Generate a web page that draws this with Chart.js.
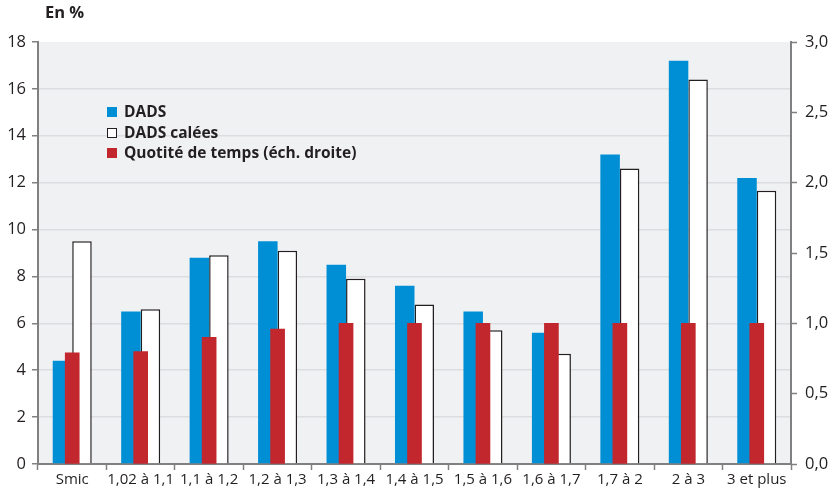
<!DOCTYPE html>
<html lang="fr">
<head>
<meta charset="utf-8">
<script src="https://cdn.jsdelivr.net/npm/chart.js@4/dist/chart.umd.min.js"></script>
<style>
    html, body { margin: 0; padding: 0; background: #ffffff; }
    #wrap { position: relative; width: 832px; height: 492px; font-family: "Open Sans", sans-serif; color: #231f20; }
    #salairesChart { position: absolute; left: 0; top: 0; }
    .unit { position: absolute; left: 45px; top: 0px; font-weight: bold; font-size: 16.5px; }
    .legend { position: absolute; left: 107px; top: 101px; font-weight: bold; font-size: 15.5px; line-height: 20.5px; }
    .legend div { position: relative; padding-left: 17px; white-space: nowrap; }
    .legend span { position: absolute; left: 0; top: 6px; width: 10px; height: 10px; box-sizing: border-box; }
</style>
</head>
<body>
<div id="wrap">
    <canvas id="salairesChart" width="832" height="492"></canvas>
    <div class="unit">En %</div>
    <div class="legend">
        <div><span style="background:#008fd5"></span>DADS</div>
        <div><span style="background:#ffffff;border:1.5px solid #231f20"></span>DADS calées</div>
        <div><span style="background:#c1272d"></span>Quotité de temps (éch. droite)</div>
    </div>
</div>
<script>
const categories = ['Smic', '1,02 à 1,1', '1,1 à 1,2', '1,2 à 1,3', '1,3 à 1,4', '1,4 à 1,5', '1,5 à 1,6', '1,6 à 1,7', '1,7 à 2', '2 à 3', '3 et plus'];
const dads = [4.4, 6.5, 8.8, 9.5, 8.5, 7.6, 6.5, 5.6, 13.2, 17.2, 12.2];
const dadsCalees = [9.5, 6.6, 8.9, 9.1, 7.9, 6.8, 5.7, 4.7, 12.6, 16.4, 11.65];
const quotite = [0.79, 0.80, 0.90, 0.96, 1.0, 1.0, 1.0, 1.0, 1.0, 1.0, 1.0];
const leftTicks = [0, 18, 2];
const rightTicks = [0, 3, 0.5];

const axisGrey = '#808080';

// fond gris clair de la zone de tracé
const plotBackground = {
    id: 'plotBackground',
    beforeDraw(chart) {
        const { ctx, chartArea } = chart;
        ctx.save();
        ctx.fillStyle = '#f0f1f3';
        ctx.fillRect(chartArea.left, chartArea.top, chartArea.right - chartArea.left, chartArea.bottom - chartArea.top);
        ctx.restore();
    }
};

function renderSalairesChart() {
    const ctx = document.getElementById('salairesChart');
    if (!ctx) {
        console.error('Element with id "salairesChart" not found.');
        return;
    }
    new Chart(ctx.getContext('2d'), {
        type: 'bar',
        data: {
            labels: categories,
            datasets: [{
                label: 'DADS',
                data: dads,
                backgroundColor: '#008fd5',
                borderWidth: 0,
                yAxisID: 'y',
                categoryPercentage: 0.57,
                barPercentage: 1.0
            }, {
                label: 'DADS calées',
                data: dadsCalees,
                backgroundColor: '#ffffff',
                borderColor: '#231f20',
                borderWidth: 1.5,
                yAxisID: 'y',
                categoryPercentage: 0.57,
                barPercentage: 1.0
            }, {
                label: 'Quotité de temps (éch. droite)',
                data: quotite,
                backgroundColor: '#c1272d',
                borderWidth: 0,
                yAxisID: 'y1',
                grouped: false,
                barThickness: 14,
                order: -1
            }]
        },
        options: {
            responsive: false,
            animation: false,
            layout: {
                padding: { top: 42, left: 0, right: 0, bottom: 0 }
            },
            plugins: {
                legend: { display: false },
                title: { display: false },
                tooltip: { enabled: false }
            },
            scales: {
                x: {
                    afterFit: (scale) => { scale.height = 28; },
                    grid: {
                        offset: true,
                        drawOnChartArea: false,
                        drawTicks: true,
                        tickLength: 6,
                        tickColor: axisGrey,
                        tickWidth: 1.5
                    },
                    border: { display: true, color: axisGrey, width: 2 },
                    ticks: {
                        color: '#231f20',
                        font: { family: 'Open Sans', size: 15 },
                        padding: 1,
                        maxRotation: 0,
                        autoSkip: false
                    }
                },
                y: {
                    position: 'left',
                    min: leftTicks[0],
                    max: leftTicks[1],
                    afterFit: (scale) => { scale.width = 38; },
                    grid: {
                        color: (c) => (c.tick && (c.tick.value === 18 || c.tick.value === 0)) ? 'rgba(0,0,0,0)' : '#dcdde0',
                        lineWidth: 1.5,
                        drawTicks: true,
                        tickLength: 6,
                        tickColor: axisGrey,
                        tickWidth: 1.5
                    },
                    border: { display: true, color: axisGrey, width: 2 },
                    ticks: {
                        stepSize: leftTicks[2],
                        color: '#231f20',
                        font: { family: 'Open Sans', size: 16.5 },
                        padding: 6
                    }
                },
                y1: {
                    position: 'right',
                    min: rightTicks[0],
                    max: rightTicks[1],
                    afterFit: (scale) => { scale.width = 41; },
                    grid: {
                        drawOnChartArea: false,
                        drawTicks: true,
                        tickLength: 6,
                        tickColor: axisGrey,
                        tickWidth: 1.5
                    },
                    border: { display: true, color: axisGrey, width: 2 },
                    ticks: {
                        stepSize: rightTicks[2],
                        color: '#231f20',
                        font: { family: 'Open Sans', size: 16.5 },
                        padding: 8,
                        callback: (value) => value.toFixed(1).replace('.', ',')
                    }
                }
            }
        },
        plugins: [plotBackground]
    });
}

renderSalairesChart();
</script>
</body>
</html>
